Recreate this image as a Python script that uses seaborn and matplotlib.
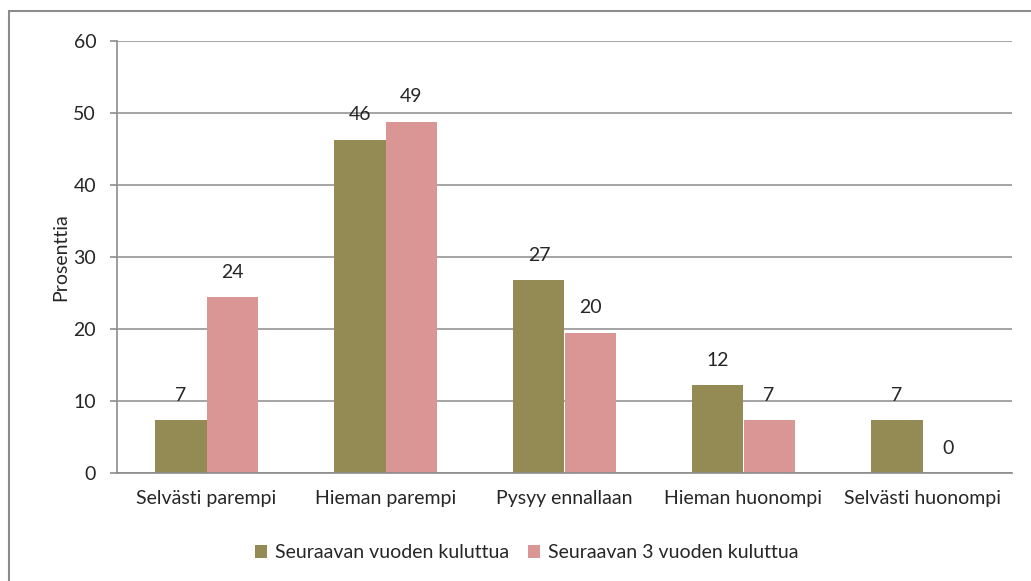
import pandas as pd
import matplotlib.pyplot as plt
import seaborn as sns
from matplotlib.patches import Rectangle

categories = ['Selvästi parempi', 'Hieman parempi', 'Pysyy ennallaan',
              'Hieman huonompi', 'Selvästi huonompi']
series_names = ['Seuraavan vuoden kuluttua', 'Seuraavan 3 vuoden kuluttua']
year1 = [7.3, 46.3, 26.8, 12.2, 7.3]
year3 = [24.4, 48.8, 19.5, 7.3, 0.0]

df = pd.DataFrame({
    'kategoria': categories * 2,
    'sarja': [series_names[0]] * 5 + [series_names[1]] * 5,
    'arvo': year1 + year3,
})

sns.set_style('white')
plt.rcParams['font.family'] = ['Lato', 'DejaVu Sans']
fs = 14

fig = plt.figure(figsize=(10.31, 5.81), dpi=100)
ax = fig.add_axes([117 / 1031, 1 - 473 / 581, (1012 - 117) / 1031, (473 - 41) / 581])

palette = ['#948A54', '#D99694']
sns.barplot(data=df, x='kategoria', y='arvo', hue='sarja', palette=palette,
            width=0.57, saturation=1, linewidth=0, ax=ax, legend=True)

for cont in ax.containers:
    for bar in cont:
        h = bar.get_height()
        ax.annotate(f'{h:.0f}', (bar.get_x() + bar.get_width() / 2, h),
                    xytext=(0, 18), textcoords='offset points',
                    ha='center', va='center', fontsize=fs)

ax.set_ylim(0, 60)
ax.set_yticks(range(0, 61, 10))
ax.set_xlim(-0.5, 4.5)
ax.set_xticks([x - 0.5 for x in range(6)], minor=True)
ax.tick_params(axis='x', which='major', length=0, labelsize=fs, pad=12)
ax.tick_params(axis='x', which='minor', length=5, color='#8c8c8c', width=1.2)
ax.tick_params(axis='y', length=5, color='#8c8c8c', width=1.2, labelsize=fs, pad=10,
               left=True)
ax.yaxis.grid(True, color='#8c8c8c', linewidth=1.1)
ax.set_axisbelow(True)
for s in ['top', 'right']:
    ax.spines[s].set_visible(False)
for s in ['left', 'bottom']:
    ax.spines[s].set_color('#8c8c8c')
    ax.spines[s].set_linewidth(1.2)
ax.set_xlabel('')
ax.set_ylabel('Prosenttia', fontsize=fs, labelpad=3)

ax.legend(loc='center', bbox_to_anchor=(0.458, -0.185), ncol=2, frameon=False,
          fontsize=fs, handlelength=0.6, handleheight=0.6, handletextpad=0.4,
          columnspacing=1.0)

fig.patches.append(Rectangle((9 / 1031, -0.2), 1.2, 1.2 - 11 / 581,
                             transform=fig.transFigure, fill=False,
                             edgecolor='#8c8c8c', linewidth=1.5))

fig.savefig('out.png', dpi=100)
